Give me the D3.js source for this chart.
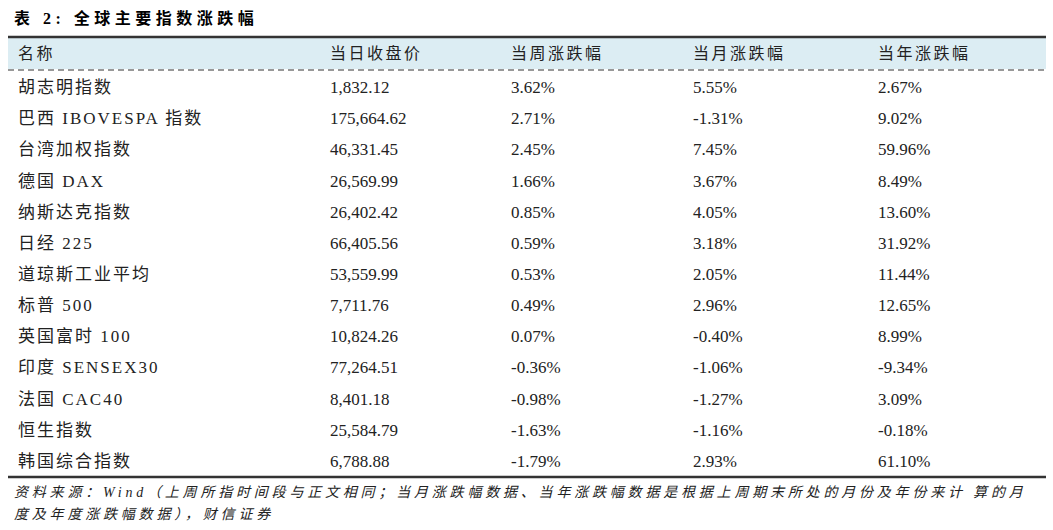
<!DOCTYPE html><html><head><meta charset="utf-8"><script src="https://cdn.jsdelivr.net/npm/d3@7"></script>
<style>body{margin:0;background:#fff}</style></head><body><svg id="c" width="1053" height="530"></svg>
<script>
const headers=["名称","当日收盘价","当周涨跌幅","当月涨跌幅","当年涨跌幅"];
const names=["胡志明指数","巴西 IBOVESPA 指数","台湾加权指数","德国 DAX","纳斯达克指数","日经 225","道琼斯工业平均","标普 500","英国富时 100","印度 SENSEX30","法国 CAC40","恒生指数","韩国综合指数"];
const close=["1,832.12","175,664.62","46,331.45","26,569.99","26,402.42","66,405.56","53,559.99","7,711.76","10,824.26","77,264.51","8,401.18","25,584.79","6,788.88"];
const week=["3.62%","2.71%","2.45%","1.66%","0.85%","0.59%","0.53%","0.49%","0.07%","-0.36%","-0.98%","-1.63%","-1.79%"];
const month=["5.55%","-1.31%","7.45%","3.67%","4.05%","3.18%","2.05%","2.96%","-0.40%","-1.06%","-1.27%","-1.16%","2.93%"];
const year=["2.67%","9.02%","59.96%","8.49%","13.60%","31.92%","11.44%","12.65%","8.99%","-9.34%","3.09%","-0.18%","61.10%"];
const svg=d3.select("#c");
const font="'Liberation Serif','Noto Sans CJK SC',serif";
const colX=[18,330,511,693,878];
const y=d3.scaleBand().domain(d3.range(names.length)).range([71.5,476.5]);
svg.append("text").attr("x",14).attr("y",24).attr("font-family",font).attr("font-weight","bold").attr("font-size",16).attr("letter-spacing",4.5).text("表 2:  全球主要指数涨跌幅");
svg.append("rect").attr("x",8).attr("y",37).attr("width",1038).attr("height",32).attr("fill","#dcedf3");
svg.append("line").attr("x1",8).attr("x2",1046).attr("y1",37).attr("y2",37).attr("stroke","#333").attr("stroke-width",2.5);
svg.append("line").attr("x1",8).attr("x2",1046).attr("y1",70).attr("y2",70).attr("stroke","#333").attr("stroke-width",1.2).attr("stroke-dasharray","6,4");
svg.append("line").attr("x1",8).attr("x2",1046).attr("y1",477).attr("y2",477).attr("stroke","#333").attr("stroke-width",2.5);
headers.forEach((h,i)=>svg.append("text").attr("x",colX[i]).attr("y",59).attr("font-family",font).attr("font-size",16).attr("letter-spacing",2.5).attr("fill","#222").text(h));
const data=names.map((n,i)=>[n,close[i],week[i],month[i],year[i]]);
const rows=svg.selectAll("g.r").data(data).join("g").attr("transform",(d,i)=>`translate(0,${y(i)+y.bandwidth()/2+6})`);
rows.selectAll("text").data(d=>d).join("text").attr("x",(d,i)=>colX[i]).attr("letter-spacing",(d,i)=>i===0?2:0).attr("font-family",font).attr("font-size",17).attr("fill","#222").text(d=>d);
svg.append("text").attr("x",14).attr("y",497).attr("font-family",font).attr("font-size",14).attr("font-style","italic").attr("letter-spacing",3.8).attr("fill","#222").text("资料来源：Wind（上周所指时间段与正文相同；当月涨跌幅数据、当年涨跌幅数据是根据上周期末所处的月份及年份来计 算的月");
svg.append("text").attr("x",14).attr("y",519).attr("font-family",font).attr("font-size",14).attr("font-style","italic").attr("letter-spacing",3.8).attr("fill","#222").text("度及年度涨跌幅数据），财信证券");
</script></body></html>
